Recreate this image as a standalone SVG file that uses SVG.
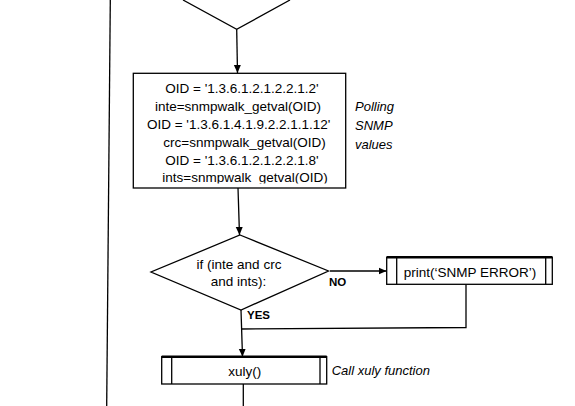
<svg xmlns="http://www.w3.org/2000/svg" width="575" height="406" viewBox="0 0 575 406">
<style>
.s{fill:none;stroke:#000;stroke-width:1.3}
.b{fill:#fff;stroke:#000;stroke-width:1.3}
.t{fill:none;stroke:#000;stroke-width:2.4}
text{font-family:"Liberation Sans",Arial,sans-serif;font-size:13.5px;fill:#000}
.m{text-anchor:middle}
.i{font-style:italic;font-size:13px}
.l{font-weight:bold;font-size:11.5px}
</style>
<defs>
<marker id="ah" markerWidth="8" markerHeight="8" refX="8" refY="4" orient="auto" markerUnits="userSpaceOnUse"><path d="M0,0.5 L8,4 L0,7.5 Z" fill="#000"/></marker>
<clipPath id="cb"><rect x="133" y="73" width="213" height="110.5"/></clipPath>
</defs>
<rect width="575" height="406" fill="#fff"/>
<g id="connectors">
<line class="s" x1="110.3" y1="0" x2="106.7" y2="406"/>
<line class="s" x1="236.7" y1="29.3" x2="237.5" y2="73" marker-end="url(#ah)"/>
<line class="s" x1="238" y1="188" x2="239.5" y2="235" marker-end="url(#ah)"/>
<line class="s" x1="330" y1="271" x2="386.5" y2="271" marker-end="url(#ah)"/>
<polyline class="s" points="466,284.3 466,327.5 241,329"/>
<line class="s" x1="241" y1="310" x2="242.5" y2="356.7" marker-end="url(#ah)"/>
<line class="s" x1="243.3" y1="384" x2="243.3" y2="406"/>
<text class="l" x="329" y="286">NO</text>
<text class="l" x="247" y="319">YES</text>
</g>
<g id="top-decision">
<polyline class="s" points="183,0 236.7,29.3 290,0"/>
</g>
<g id="poll">
<rect class="b" x="133.3" y="73.3" width="212.4" height="114.7"/>
<g clip-path="url(#cb)">
<text class="m" x="242" y="93">OID = '1.3.6.1.2.1.2.2.1.2'</text>
<text class="m" x="238" y="111">inte=snmpwalk_getval(OID)</text>
<text class="m" x="238.7" y="128.5">OID = '1.3.6.1.4.1.9.2.2.1.1.12'</text>
<text class="m" x="244.5" y="146.5">crc=snmpwalk_getval(OID)</text>
<text class="m" x="242" y="164.5">OID = '1.3.6.1.2.1.2.2.1.8'</text>
<text class="m" x="245" y="182">ints=snmpwalk_getval(OID)</text>
</g>
</g>
<g id="poll-note">
<text class="i" x="355" y="111">Polling</text>
<text class="i" x="355" y="130">SNMP</text>
<text class="i" x="355" y="149">values</text>
</g>
<g id="check">
<polygon class="b" points="240,235 328.5,271 241,310 151,272"/>
<text class="m" x="239" y="268.5">if (inte and crc</text>
<text class="m" x="238.5" y="286">and ints):</text>
</g>
<g id="error">
<rect class="b" x="386.7" y="257.3" width="165.6" height="27"/>
<line class="t" x1="386.7" y1="257.3" x2="552.3" y2="257.3"/>
<line class="s" x1="396.7" y1="257.3" x2="396.7" y2="284.3"/>
<line class="s" x1="545.7" y1="257.3" x2="545.7" y2="284.3"/>
<text class="m" x="470" y="277">print(‘SNMP ERROR’)</text>
</g>
<g id="xuly">
<rect class="b" x="161.7" y="356.7" width="165" height="27.3"/>
<line class="t" x1="161.7" y1="356.7" x2="326.7" y2="356.7"/>
<line class="s" x1="171.7" y1="356.7" x2="171.7" y2="384"/>
<line class="s" x1="320" y1="356.7" x2="320" y2="384"/>
<text class="m" x="244.7" y="376">xuly()</text>
</g>
<g id="xuly-note">
<text class="i" x="331.7" y="375">Call xuly function</text>
</g>
</svg>
